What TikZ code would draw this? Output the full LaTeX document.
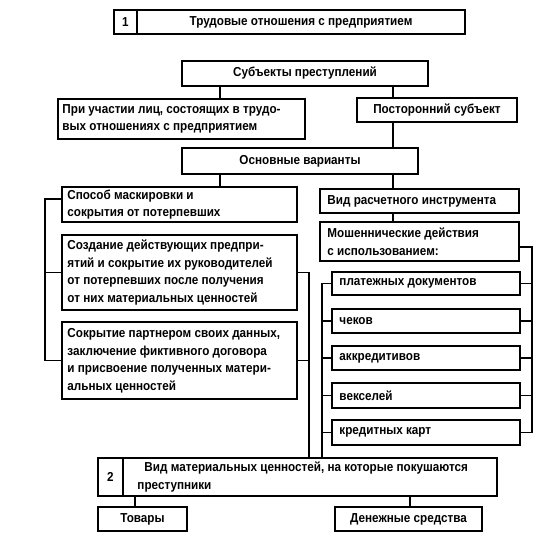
\documentclass[tikz,border=0pt]{standalone}
\usepackage{fontspec}
\setmainfont{Liberation Sans}[FakeStretch=0.9]
\begin{document}
\begin{tikzpicture}[x=1pt,y=-1pt,
  box/.style={draw, line width=1.5pt, inner sep=0pt},
  txt/.style={inner sep=0pt, align=left, font=\fontsize{13}{17.5}\selectfont\bfseries},
  conn/.style={line width=1.3pt}]
\useasboundingbox[fill=white] (0,0) rectangle (553,536);
\newcommand\bxl[7]{%
  \pgfmathsetmacro\bxw{#4-#2}\pgfmathsetmacro\bxh{#5-#3}%
  \node[box, minimum width=\bxw pt, minimum height=\bxh pt] (#1) at ({(#2+#4)/2},{(#3+#5)/2}) {};
  \node[txt, anchor=west] (#1t) at ([xshift=#6pt]#1.west) {#7};
}
\newcommand\bxc[6]{%
  \pgfmathsetmacro\bxw{#4-#2}\pgfmathsetmacro\bxh{#5-#3}%
  \node[box, minimum width=\bxw pt, minimum height=\bxh pt] (#1) at ({(#2+#4)/2},{(#3+#5)/2}) {};
  \node[txt, align=center] (#1t) at (#1.center) {#6};
}
\bxc{bnum}{114}{10}{137}{34}{1}
\bxc{btop}{137}{10}{465}{34}{Трудовые отношения с предприятием}
\bxc{subj}{182}{61}{428}{86}{Субъекты преступлений}
\bxl{pri}{58}{99}{305}{139}{5}{При участии лиц, состоящих в трудо-\\вых отношениях с предприятием}
\bxc{post}{357}{98}{517}{122}{Посторонний субъект}
\bxc{osn}{182}{148}{418}{174}{Основные варианты}
\bxl{spos}{62}{187}{297}{222}{6}{Способ маскировки и\\сокрытия от потерпевших}
\bxl{sozd}{62}{235}{297}{310}{6}{Создание действующих предпри-\\ятий и сокрытие их руководителей\\от потерпевших после получения\\от них материальных ценностей}
\bxl{sokr}{62}{322}{297}{399}{6}{Сокрытие партнером своих данных,\\заключение фиктивного договора\\и присвоение полученных матери-\\альных ценностей}
\bxl{vid}{320}{189}{519}{213}{8}{Вид расчетного инструмента}
\bxl{mosh}{320}{222}{519}{261}{8}{Мошеннические действия\\с использованием:}
\bxl{s1}{332}{272}{520}{295}{8}{платежных документов}
\bxl{s2}{332}{309}{520}{333}{8}{чеков}
\bxl{s3}{332}{346}{520}{370}{8}{аккредитивов}
\bxl{s4}{332}{383}{520}{408}{8}{векселей}
\bxl{s5}{332}{420}{520}{445}{8}{кредитных карт}
\bxc{n2}{98}{458}{123}{496}{2}
\bxl{b2}{123}{458}{497}{496}{15}{\hspace*{7pt}Вид материальных ценностей, на которые покушаются\\преступники}
\bxc{tov}{98}{507}{187}{531}{Товары}
\bxc{den}{335}{507}{482}{531}{Денежные средства}
% connectors
\coordinate (xa) at (220,0);
\coordinate (xb) at (393,0);
\draw[conn] (subj.south -| xa) -- (pri.north -| xa);
\draw[conn] (subj.south -| xb) -- (post.north -| xb);
\draw[conn] (post.south -| xb) -- (osn.north -| xb);
\draw[conn] (osn.south -| xa) -- (spos.north -| xa);
\draw[conn] (osn.south -| xb) -- (vid.north -| xb);
\draw[conn] (vid.south -| xb) -- (mosh.north -| xb);
\coordinate (lb) at (45,199);
\draw[conn] (spos.west |- lb) -- (lb) -- (lb |- sokr.west) -- (sokr.west);
\draw[conn] (sozd.west) -- (lb |- sozd.west);
\coordinate (rb) at (309,0);
\draw[conn] (sozd.east) -- (rb |- sozd.east) -- (rb |- b2.north);
\draw[conn] (sokr.east) -- (rb |- sokr.east);
\coordinate (mb) at (532,247);
\draw[conn] (mosh.east |- mb) -- (mb) -- (mb |- s5.east) -- (s5.east);
\foreach \s in {s1,s2,s3,s4} \draw[conn] (\s.east) -- (mb |- \s.east);
\coordinate (sb) at (322,0);
\draw[conn] (s1.west) -- (sb |- s1.west) -- (sb |- b2.north);
\foreach \s in {s2,s3,s4,s5} \draw[conn] (\s.west) -- (sb |- \s.west);
\coordinate (xc) at (135,0);
\coordinate (xd) at (410,0);
\draw[conn] (b2.south -| xc) -- (tov.north -| xc);
\draw[conn] (b2.south -| xd) -- (den.north -| xd);
\end{tikzpicture}
\end{document}
